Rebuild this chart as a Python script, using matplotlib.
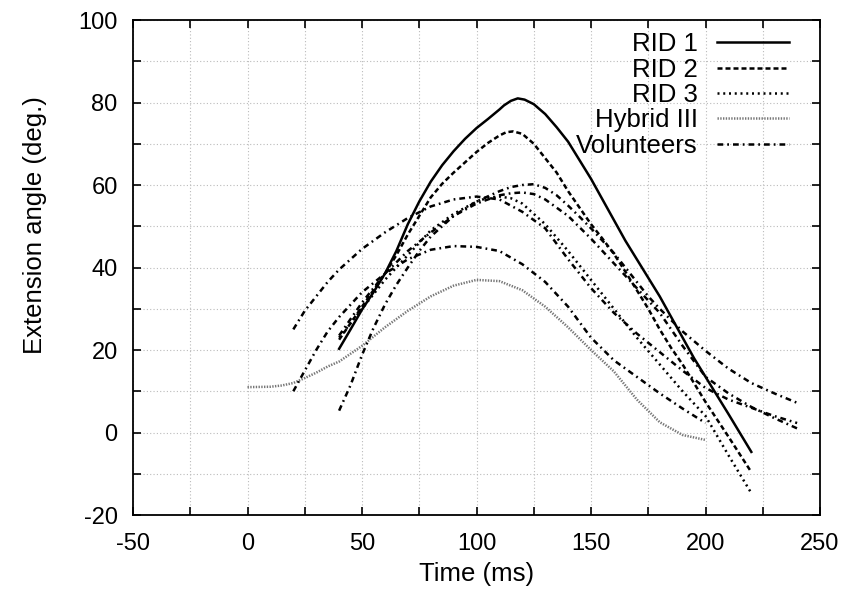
import matplotlib
matplotlib.use("Agg")
import matplotlib.pyplot as plt
from matplotlib.ticker import MultipleLocator

plt.rcParams['font.family'] = ['Liberation Sans', 'DejaVu Sans']
plt.rcParams['axes.unicode_minus'] = False

# RID 1 (solid)
rid1_t = [40, 45, 50, 55, 60, 65, 70, 75, 80, 85, 90, 95, 100, 105, 110, 112, 115, 118, 121, 125,
          130, 135, 140, 145, 150, 155, 160, 165, 170, 175, 180, 185, 190, 195, 200, 210, 220]
rid1_a = [20.3, 25, 29.8, 34, 38.5, 44, 50.5, 56, 60.8, 64.8, 68.2, 71.2, 73.8, 76, 78.3, 79.3, 80.4, 81, 80.7, 79.6,
          77.2, 74, 70.5, 66, 61.5, 56.5, 51.5, 46.5, 42, 37.5, 33, 28, 23, 18, 13.5, 4.5, -4.7]

# RID 2 (dashed)
rid2_t = [40, 45, 50, 55, 60, 65, 70, 75, 80, 85, 90, 95, 100, 105, 110, 113, 116, 120, 125,
          130, 135, 140, 145, 150, 155, 160, 165, 170, 175, 180, 185, 190, 200, 210, 220]
rid2_a = [22.5, 26.5, 30.5, 34.5, 38.5, 43, 48, 52.5, 57, 60.3, 63, 65.5, 68, 70.2, 72, 72.8, 73, 72.4, 70,
          66.5, 63, 58.5, 54.5, 50.5, 47, 43.3, 39, 34.5, 30, 25, 20.5, 16.5, 7.4, -1, -9.6]

# RID 3 (dotted)
rid3_t = [40, 50, 60, 70, 80, 90, 100, 105, 110, 115, 120, 130, 140, 150, 160, 170, 180, 190, 200, 210, 220]
rid3_a = [23, 30, 37, 43, 49, 53, 56, 56.9, 57.2, 56.8, 55.5, 50.5, 44, 37, 30, 23, 16.5, 10, 4, -5.5, -14.7]

# Hybrid III
h3_t = [0, 10, 15, 20, 25, 30, 35, 40, 50, 60, 70, 80, 90, 100, 110, 120, 130, 140,
        150, 160, 170, 180, 190, 200]
h3_a = [11, 11.1, 11.4, 12, 13.2, 14.5, 16, 17.2, 21, 25.5, 29.5, 33, 35.6, 37, 36.7, 34.5, 30.5, 25.5,
        20, 14.8, 8, 2.5, -0.6, -1.8]

# Volunteers (dash-dot)
v1_t = [20, 25, 30, 35, 40, 50, 60, 70, 80, 90, 100, 110, 120, 130, 140, 150, 160, 170,
        180, 190, 200, 210, 220, 230, 240]
v1_a = [25, 29.5, 33, 36.5, 39.5, 44.5, 48.5, 52, 54.8, 56.5, 57.2, 56.5, 53.5, 49.5, 42, 35, 29, 24,
        19.5, 15, 10.8, 8, 6, 4, 2.3]

v2_t = [20, 25, 30, 35, 40, 50, 60, 70, 80, 90, 100, 110, 120, 130, 140, 150, 160, 170,
        180, 190, 200]
v2_a = [10, 15, 20, 24.5, 28, 34, 38.5, 42, 44.3, 45.2, 45, 44, 40.8, 36.5, 30.5, 23, 17.5, 13.5,
        9.5, 5.8, 2.3]

v3_t = [40, 45, 50, 55, 60, 65, 70, 75, 80, 90, 100, 110, 115, 120, 125, 130, 135, 140, 145,
        150, 155, 160, 165, 170, 175, 180, 190, 200, 210, 220, 230, 240]
v3_a = [5.3, 11.5, 18.8, 25.3, 31, 35.8, 40, 44, 47.5, 52.5, 56, 58.5, 59.5, 60, 60.2, 59.3, 57.5, 55, 52.3,
        49.5, 46.5, 43.5, 40, 36.5, 33, 30, 24.5, 19.8, 15.5, 12, 9.5, 7.2]

v4_t = [40, 50, 60, 70, 80, 90, 100, 110, 115, 120, 125, 130, 140, 150, 160, 170, 180, 190,
        200, 210, 220, 230, 240]
v4_a = [23.5, 31.5, 38.5, 44, 48.5, 52.5, 55.5, 57.5, 58, 58.2, 57.8, 56.5, 52.5, 47, 41, 35, 29, 21,
        13.5, 9.5, 6.2, 3.5, 1.0]

volunteers = [(v1_t, v1_a), (v2_t, v2_a), (v3_t, v3_a), (v4_t, v4_a)]

fig = plt.figure(figsize=(8.51, 5.99), dpi=100)
ax = fig.add_axes([0.1563, 0.1402, 0.8073, 0.8264])

lw = 1.8
ax.plot(rid1_t, rid1_a, color='black', lw=lw, label='RID 1')
ax.plot(rid2_t, rid2_a, color='black', lw=lw, dashes=(2.0, 1.2), label='RID 2')
ax.plot(rid3_t, rid3_a, color='black', lw=lw, dashes=(0.8, 1.5), label='RID 3')
ax.plot(h3_t, h3_a, color='#777777', lw=lw, dashes=(0.55, 0.55), label='Hybrid III')
for i, (t, a) in enumerate(volunteers):
    ax.plot(t, a, color='black', lw=lw, dashes=(2.3, 1.6, 0.7, 1.6),
            label='Volunteers' if i == 0 else None)

ax.set_xlim(-50, 250)
ax.set_ylim(-20, 100)
ax.xaxis.set_major_locator(MultipleLocator(50))
ax.xaxis.set_minor_locator(MultipleLocator(25))
ax.yaxis.set_major_locator(MultipleLocator(20))
ax.yaxis.set_minor_locator(MultipleLocator(10))
ax.grid(True, which='both', color='#bbbbbb', linestyle=(0, (1, 2)), lw=0.8)
ax.tick_params(which='both', direction='in', top=True, right=True, length=6, width=1.2)
ax.tick_params(axis='x', labelsize=17, pad=13)
ax.tick_params(axis='y', labelsize=17, pad=11)
for s in ax.spines.values():
    s.set_linewidth(1.3)

ax.set_xlabel('Time (ms)', fontsize=18.5, labelpad=5)
ax.set_ylabel('Extension angle (deg.)', fontsize=18.5)
ax.yaxis.set_label_coords(-0.125, 0.585)

leg = ax.legend(loc='upper right', bbox_to_anchor=(0.955, 0.975), frameon=False, markerfirst=False,
                fontsize=18.5, handlelength=2.8, handletextpad=0.75, labelspacing=0.05,
                borderpad=0, borderaxespad=0)

fig.savefig('out.png', dpi=100)
